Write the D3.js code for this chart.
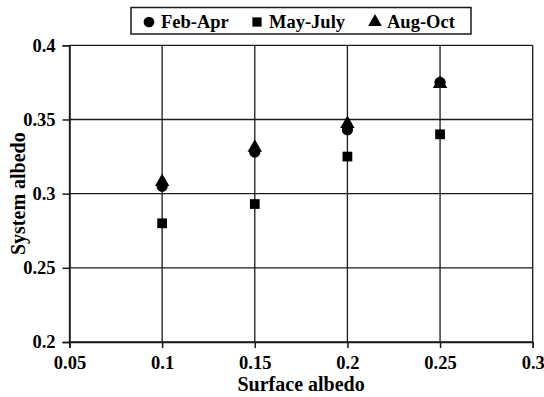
<!DOCTYPE html>
<html>
<head>
<meta charset="utf-8">
<script src="https://cdn.jsdelivr.net/npm/d3@7"></script>
<style>
  html, body { margin: 0; padding: 0; background: #fff; }
  svg text { font-family: "Liberation Serif", "Times New Roman", serif; font-weight: bold; fill: #000; }
</style>
</head>
<body>
<svg id="chart" width="544" height="397"></svg>
<script>
// Surface albedo vs. system albedo for three seasonal periods
const surfaceAlbedo = [0.1, 0.15, 0.2, 0.25];
const febApr  = [0.305, 0.328, 0.343, 0.375];
const mayJuly = [0.280, 0.293, 0.325, 0.340];
const augOct  = [0.308, 0.331, 0.347, 0.374];

const seriesNames = ["Feb-Apr", "May-July", "Aug-Oct"];
const seriesValues = [febApr, mayJuly, augOct];
const seriesSymbols = [d3.symbolCircle, d3.symbolSquare, d3.symbolTriangle];
const symbolSizes = [100, 95, 90];

const xTicks = [0.05, 0.1, 0.15, 0.2, 0.25, 0.3];
const yTicks = [0.2, 0.25, 0.3, 0.35, 0.4];

const svg = d3.select("#chart");
const W = 544, H = 397;
const margin = { left: 69.5, right: W - 532.7, top: 45.3, bottom: H - 342 };

const x = d3.scaleLinear().domain([0.05, 0.3]).range([margin.left, W - margin.right]);
const y = d3.scaleLinear().domain([0.2, 0.4]).range([H - margin.bottom, margin.top]);

const ink = "#1a1a1a";

// grid lines
const grid = svg.append("g").attr("stroke", ink).attr("stroke-width", 1.3);
grid.selectAll("line.h").data(yTicks).join("line")
  .attr("x1", x.range()[0]).attr("x2", x.range()[1])
  .attr("y1", d => y(d)).attr("y2", d => y(d));
grid.selectAll("line.v").data(xTicks).join("line")
  .attr("y1", y.range()[0]).attr("y2", y.range()[1])
  .attr("x1", d => x(d)).attr("x2", d => x(d));

// axes
const fmt = d => String(+d.toFixed(2));
const xAxis = svg.append("g")
  .attr("transform", `translate(0,${y(0.2)})`)
  .call(d3.axisBottom(x).tickValues(xTicks).tickFormat(fmt).tickSize(6).tickPadding(8));
const yAxis = svg.append("g")
  .attr("transform", `translate(${x(0.05)},0)`)
  .call(d3.axisLeft(y).tickValues(yTicks).tickFormat(fmt).tickSize(7).tickPadding(7));

[xAxis, yAxis].forEach(a => {
  a.select(".domain").attr("stroke", ink).attr("stroke-width", 1.5);
  a.selectAll(".tick line").attr("stroke", ink).attr("stroke-width", 1.5);
  a.selectAll(".tick text")
    .attr("fill", "#000")
    .style("font-family", '"Liberation Serif", "Times New Roman", serif')
    .style("font-weight", "bold")
    .style("font-size", "18.5px");
});

// axis titles
svg.append("text")
  .attr("x", (x.range()[0] + x.range()[1]) / 2)
  .attr("y", 391)
  .attr("text-anchor", "middle")
  .attr("fill", "#000")
  .style("font-size", "20px")
  .text("Surface albedo");

svg.append("text")
  .attr("transform", `translate(25,${(y.range()[0] + y.range()[1]) / 2}) rotate(-90)`)
  .attr("text-anchor", "middle")
  .attr("fill", "#000")
  .style("font-size", "20px")
  .text("System albedo");

// data markers
seriesValues.forEach((vals, i) => {
  svg.append("g").selectAll("path").data(vals).join("path")
    .attr("d", d3.symbol().type(seriesSymbols[i]).size(symbolSizes[i]))
    .attr("transform", (d, j) => `translate(${x(surfaceAlbedo[j])},${y(d)})`)
    .attr("fill", "#000");
});

// legend
const legend = svg.append("g");
legend.append("rect")
  .attr("x", 131).attr("y", 7.5).attr("width", 340).attr("height", 26.5)
  .attr("fill", "#fff").attr("stroke", ink).attr("stroke-width", 1.5);
const legendX = [149, 257, 375];
seriesNames.forEach((name, i) => {
  legend.append("path")
    .attr("d", d3.symbol().type(seriesSymbols[i]).size(symbolSizes[i] * 0.9))
    .attr("transform", `translate(${legendX[i]},${22})`)
    .attr("fill", "#000");
  legend.append("text")
    .attr("x", legendX[i] + 12).attr("y", 28)
    .attr("fill", "#000")
    .style("font-size", "18.5px")
    .text(name);
});
</script>
</body>
</html>
